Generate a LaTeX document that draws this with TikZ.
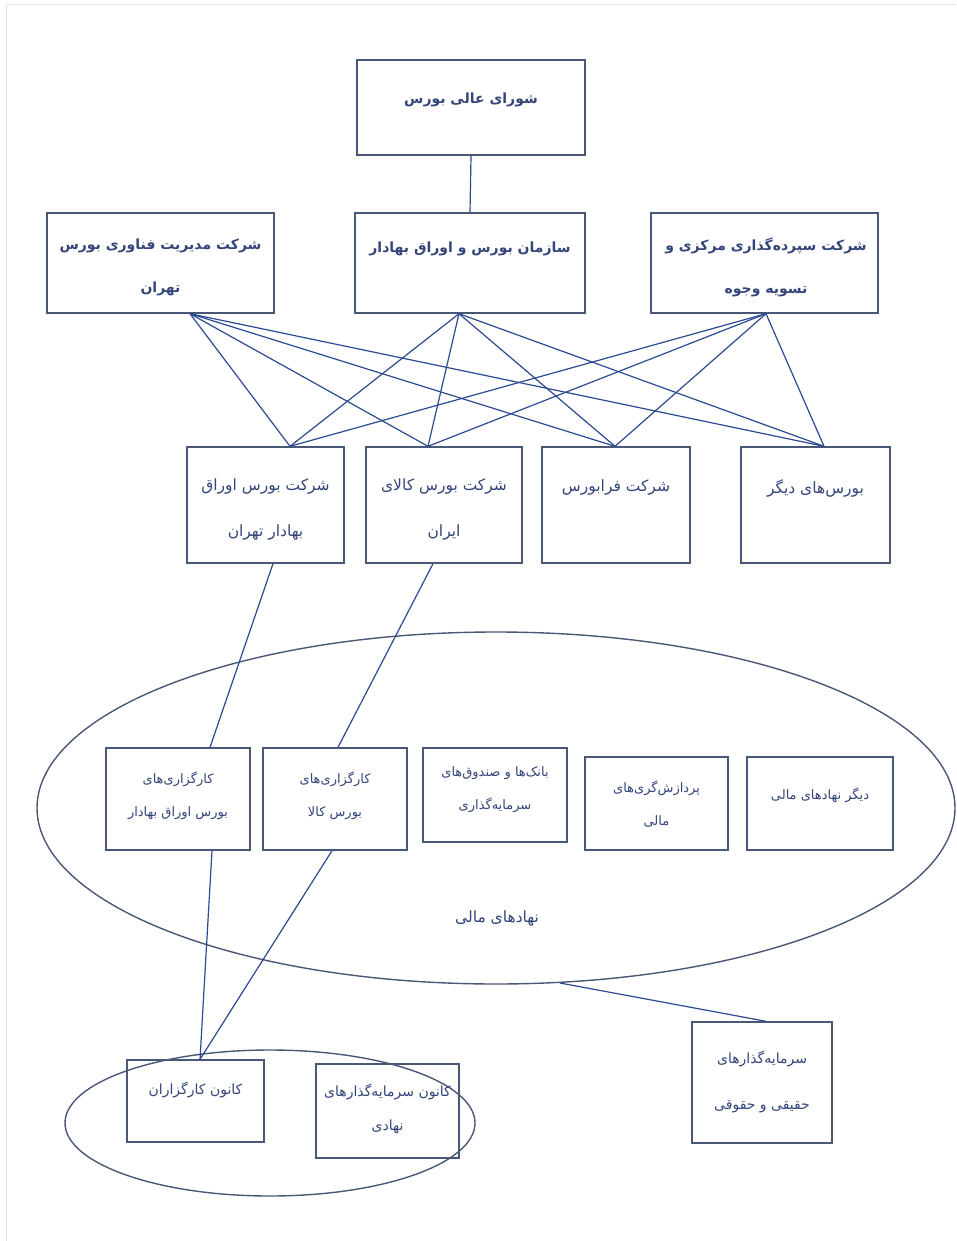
\documentclass[tikz,border=0pt]{standalone}
\usepackage{fontspec}
\usetikzlibrary{shapes.geometric,calc}
\newfontfamily\arfont[Script=Arabic]{DejaVu Sans}
\TeXXeTstate=1
\newcommand{\RL}[1]{\beginR#1\endR}
\definecolor{boxc}{HTML}{4A5878}
\definecolor{linec}{HTML}{2C4A92}
\definecolor{txtc}{HTML}{34457A}
\definecolor{framec}{HTML}{E2E4E8}
\begin{document}
\begin{tikzpicture}[x=1pt,y=-1pt,
  box/.style={draw=boxc,line width=1.4pt,inner sep=0pt},
  oval/.style={draw=boxc,line width=1.4pt,ellipse,inner sep=0pt},
  conn/.style={draw=linec,line width=1.2pt},
  txtb/.style={text=txtc,align=center,inner sep=0pt,font=\arfont\bfseries\fontsize{14}{43}\selectfont},
  txtl/.style={text=txtc,align=center,inner sep=0pt,font=\arfont\fontsize{15.5}{46}\selectfont},
  txtm/.style={text=txtc,align=center,inner sep=0pt,font=\arfont\fontsize{14}{34}\selectfont},
  txtmw/.style={text=txtc,align=center,inner sep=0pt,font=\arfont\fontsize{14}{46}\selectfont},
  txt/.style={text=txtc,align=center,inner sep=0pt,font=\arfont\fontsize{13}{33}\selectfont}]
\fill[white] (0,0) rectangle (956,1241);
\useasboundingbox (0,0) rectangle (956,1241);
\draw[framec,line width=1pt] (6,1241) -- (6,5) -- (956,5);
% boxes
\node[box,minimum width=228pt,minimum height=95pt] (top) at (471,107.5) {};
\node[box,minimum width=227pt,minimum height=100pt] (L) at (160.5,263) {};
\node[box,minimum width=230pt,minimum height=100pt] (M) at (470,263) {};
\node[box,minimum width=227pt,minimum height=100pt] (R) at (764.5,263) {};
\node[box,minimum width=157pt,minimum height=116pt] (A) at (265.5,505) {};
\node[box,minimum width=156pt,minimum height=116pt] (B) at (444,505) {};
\node[box,minimum width=148pt,minimum height=116pt] (C) at (616,505) {};
\node[box,minimum width=149pt,minimum height=116pt] (D) at (815.5,505) {};
\node[oval,minimum width=918pt,minimum height=352pt] (E) at (496,808) {};
\node[box,minimum width=144pt,minimum height=102pt] (i1) at (178,799) {};
\node[box,minimum width=144pt,minimum height=102pt] (i2) at (335,799) {};
\node[box,minimum width=144pt,minimum height=94pt] (i3) at (495,795) {};
\node[box,minimum width=143pt,minimum height=93pt] (i4) at (656.5,803.5) {};
\node[box,minimum width=146pt,minimum height=93pt] (i5) at (820,803.5) {};
\node[oval,minimum width=410pt,minimum height=146pt] (F) at (270,1123) {};
\node[box,minimum width=137pt,minimum height=82pt] (k1) at (195.5,1101) {};
\node[box,minimum width=143pt,minimum height=94pt] (k2) at (387.5,1111) {};
\node[box,minimum width=140pt,minimum height=121pt] (s) at (762,1082.5) {};
% texts
\node[txtb] (tTop) at (471,100) {\RL{شورای عالی بورس}};
\node[txtb] (tL) at (160.5,267) {\RL{شرکت مدیریت فناوری بورس}\\\RL{تهران}};
\node[txtb] (tM) at (470,249) {\RL{سازمان بورس و اوراق بهادار}};
\node[txtb] (tR) at (766,267) {\RL{شرکت سپرده‌گذاری مرکزی و}\\\RL{تسویه وجوه}};
\node[txtl] (tA) at (265.5,509) {\RL{شرکت بورس اوراق}\\\RL{بهادار تهران}};
\node[txtl] (tB) at (444,509) {\RL{شرکت بورس کالای}\\\RL{ایران}};
\node[txtl] (tC) at (616,488) {\RL{شرکت فرابورس}};
\node[txtl] (tD) at (815.5,488) {\RL{بورس‌های دیگر}};
\node[txt] (ti1) at (178,796) {\RL{کارگزاری‌های}\\\RL{بورس اوراق بهادار}};
\node[txt] (ti2) at (335,796) {\RL{کارگزاری‌های}\\\RL{بورس کالا}};
\node[txt] (ti3) at (495,790) {\RL{بانک‌ها و صندوق‌های}\\\RL{سرمایه‌گذاری}};
\node[txt] (ti4) at (656.5,804) {\RL{پردازش‌گری‌های}\\\RL{مالی}};
\node[txt] (ti5) at (820,795) {\RL{دیگر نهادهای مالی}};
\node[txtl] (tE) at (497,918) {\RL{نهادهای مالی}};
\node[txtm] (tk1) at (195.5,1090) {\RL{کانون کارگزاران}};
\node[txtm] (tk2) at (387.5,1109) {\RL{کانون سرمایه‌گذارهای}\\\RL{نهادی}};
\node[txtmw] (ts) at (762,1082) {\RL{سرمایه‌گذارهای}\\\RL{حقیقی و حقوقی}};
% connectors
\draw[conn] (top.south) -- (M.north);
\coordinate (Lb) at ([xshift=29.5pt]L.south);
\coordinate (Mb) at ([xshift=-11pt]M.south);
\coordinate (Rb) at ([xshift=1.5pt]R.south);
\coordinate (At) at ([xshift=24.5pt]A.north);
\coordinate (Bt) at ([xshift=-16pt]B.north);
\coordinate (Ct) at ([xshift=-1pt]C.north);
\coordinate (Dt) at ([xshift=8.5pt]D.north);
\foreach \u in {Lb,Mb,Rb}{
  \foreach \v in {At,Bt,Ct,Dt}{
    \draw[conn] (\u) -- (\v);
  }
}
\draw[conn] ([xshift=7.5pt]A.south) -- ([xshift=32pt]i1.north);
\draw[conn] ([xshift=-11pt]B.south) -- ([xshift=3pt]i2.north);
\draw[conn] ([xshift=34pt]i1.south) -- ([xshift=4.5pt]k1.north);
\draw[conn] ([xshift=-3pt]i2.south) -- ([xshift=4.5pt]k1.north);
\coordinate (eb) at (560,983);
\draw[conn] (eb) -- ([xshift=4pt]s.north);
\end{tikzpicture}
\end{document}
